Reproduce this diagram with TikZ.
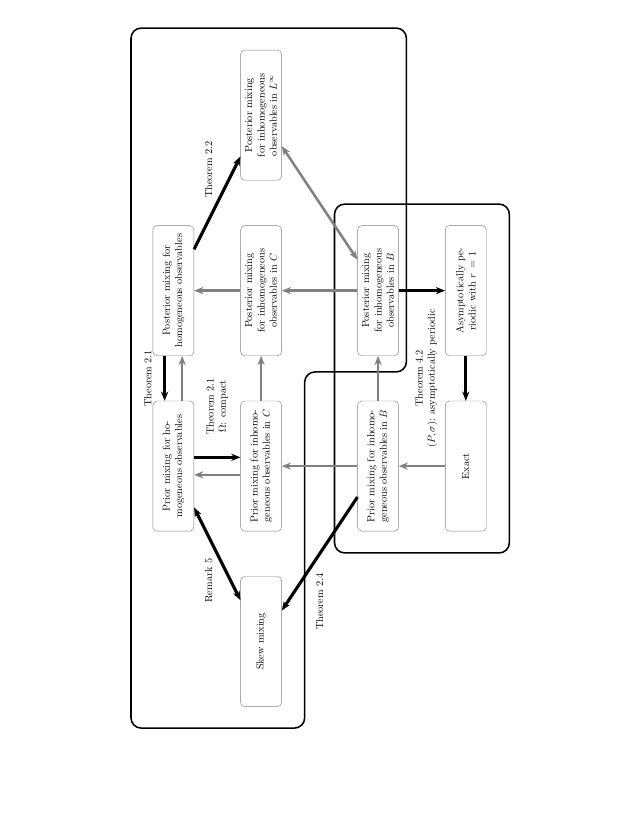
\documentclass[tikz,border=0pt]{standalone}
\usetikzlibrary{arrows.meta}
\tikzset{
  mixbox/.style={draw=gray, rounded corners, minimum width=4.45cm, minimum height=1.4cm, inner sep=1pt, align=center},
  grayarrow/.style={->, gray, line width=2.4pt},
  blackarrow/.style={->, line width=3pt},
  groupline/.style={line width=1.5pt, rounded corners=10pt},
}
\begin{document}
\begin{tikzpicture}[rotate=90, transform shape, >={Stealth[length=9pt,width=7pt]}]
\useasboundingbox (0,0) rectangle (27.94,21.59);
% the two groups
\draw[groupline] (3.04,17.11) -- (26.98,17.11) -- (26.98,7.69) -- (15.22,7.69) -- (15.22,11.17) -- (3.04,11.17) -- cycle;
\draw[groupline] (9.03,4.17) rectangle (20.96,10.15);
% boxes
\node[mixbox] (PL) at (24,12.66) {Posterior mixing\\for inhomogeneous\\observables in $L^\infty$};
\node[mixbox] (PH) at (18,15.66) {Posterior mixing for\\homogeneous observables};
\node[mixbox] (PC) at (18,12.66) {Posterior mixing\\for inhomogeneous\\observables in $C$};
\node[mixbox] (PB) at (18,8.66) {Posterior mixing\\for inhomogeneous\\observables in $B$};
\node[mixbox] (AP) at (18,5.66) {Asymptotically pe-\\riodic with $r\,=\,1$};
\node[mixbox] (RH) at (12,15.66) {Prior mixing for ho-\\mogeneous observables};
\node[mixbox] (RC) at (12,12.66) {Prior mixing for inhomo-\\geneous observables in $C$};
\node[mixbox] (RB) at (12,8.66) {Prior mixing for inhomo-\\geneous observables in $B$};
\node[mixbox] (EX) at (12,5.66) {Exact};
\node[mixbox] (SK) at (6,12.66) {Skew mixing};
% implications
\draw[grayarrow] (PC) -- (PH);
\draw[grayarrow] (PB) -- (PC);
\draw[grayarrow, <->] (PL) -- (PB);
\draw[blackarrow] (PH) -- (PL) node[midway, above right] {Theorem 2.2};
\draw[blackarrow] ([yshift=0.3cm]PH.west) -- ([yshift=0.3cm]RH.east) node[midway, above=8pt] {Theorem 2.1};
\draw[grayarrow] ([yshift=-0.3cm]RH.east) -- ([yshift=-0.3cm]PH.west);
\draw[grayarrow] (RC) -- (PC);
\draw[grayarrow] (RB) -- (PB);
\draw[blackarrow] ([xshift=0.3cm]RH.south) -- ([xshift=0.3cm]RC.north) node[midway, right=0.6cm, align=center] {Theorem 2.1\\$\Omega$: compact};
\draw[grayarrow] ([xshift=-0.3cm]RC.north) -- ([xshift=-0.3cm]RH.south);
\draw[grayarrow] (RB) -- (RC);
\draw[grayarrow] (EX) -- (RB);
\draw[blackarrow] (PB) -- (AP);
\draw[blackarrow] (AP) -- (EX) node[midway, above=0.8cm, align=center] {Theorem 4.2\\$(P,\sigma)$: asymptotically periodic};
\draw[blackarrow, <->] (RH) -- (SK) node[midway, above left] {Remark 5};
\draw[blackarrow] (RB) -- (SK) node[midway, left=0.5cm] {Theorem 2.4};
\end{tikzpicture}
\end{document}
